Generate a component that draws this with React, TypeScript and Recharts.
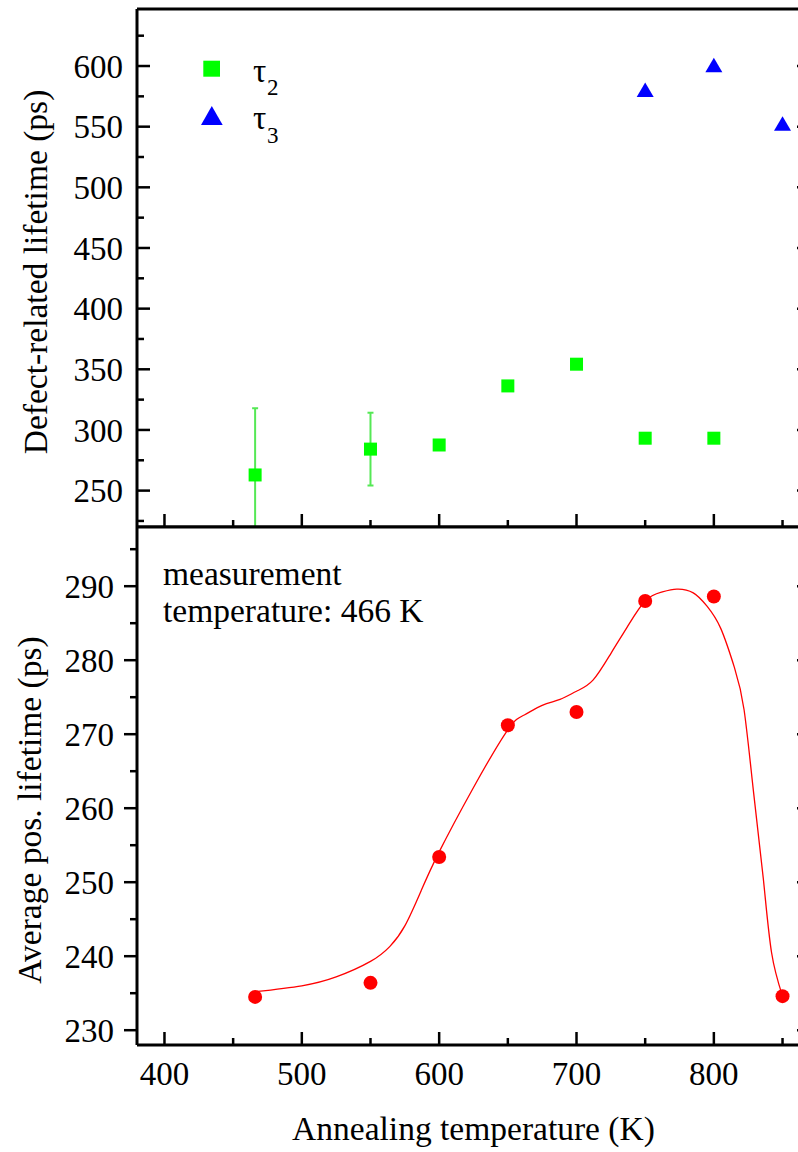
import React from "react";
import { ComposedChart, Scatter, Line, XAxis, YAxis, ErrorBar, Legend } from "recharts";

const FONT = "'Liberation Serif', 'DejaVu Serif', serif";

// upper panel: defect-related lifetimes (ps)
const tau2Temps = [466, 550, 600, 650, 700, 750, 800];
const tau2Values = [262.9, 284.2, 287.6, 336.3, 354.2, 293.2, 293.2];
const tau2Errors = [55, 30, 0, 0, 0, 0, 0];
const tau3Temps = [750, 800, 850];
const tau3Values = [580.3, 600.7, 552.5];

// lower panel: average positron lifetime (ps)
const avgTemps = [466, 550, 600, 650, 700, 750, 800, 850];
const avgValues = [234.5, 236.4, 253.4, 271.2, 273.0, 288.0, 288.6, 234.6];

// guide-to-the-eye curve
const curveTemps = [466, 500, 525, 550, 564, 575, 587, 600, 625, 650, 662, 675, 688, 700, 712, 725, 737, 750, 762, 773, 785, 795, 805, 815, 822, 829, 836, 842, 850];
const curveValues = [235.2, 236.0, 237.2, 239.3, 241.3, 244.1, 248.9, 254.1, 262.8, 270.6, 272.6, 273.9, 274.7, 275.8, 277.3, 280.9, 284.5, 288.0, 289.2, 289.6, 289.1, 287.3, 284.3, 279.0, 273.3, 262.0, 250.5, 240.5, 234.6];

const xMajor = [400, 500, 600, 700, 800];
const xMinor = [450, 550, 650, 750, 850];
const topMajor = [250, 300, 350, 400, 450, 500, 550, 600];
const topMinor = [225, 275, 325, 375, 425, 475, 525, 575, 625];
const botMajor = [230, 240, 250, 260, 270, 280, 290];
const botMinor = [235, 245, 255, 265, 275, 285, 295];

const X_DOMAIN: [number, number] = [380, 870];
const TOP_DOMAIN: [number, number] = [220, 647];
const BOT_DOMAIN: [number, number] = [228, 298];

const tau2Data = tau2Temps.map((x, i) => ({ x, y: tau2Values[i], err: tau2Errors[i] }));
const tau3Data = tau3Temps.map((x, i) => ({ x, y: tau3Values[i] }));
const avgData = avgTemps.map((x, i) => ({ x, y: avgValues[i] }));
const curveData = curveTemps.map((x, i) => ({ x, y: curveValues[i] }));

const allX = [...xMajor, ...xMinor].sort((a, b) => a - b);
const allTop = [...topMajor, ...topMinor].sort((a, b) => a - b);
const allBot = [...botMajor, ...botMinor].sort((a, b) => a - b);

// frame geometry (chart-local px); both charts use the same horizontal layout
const W = 830;
const LEFT = 137;
const RIGHT = 810;
const TOP_H = 528;     // upper chart: plot 9..527
const BOT_H = 652;     // lower chart (placed at y=500): plot 27..545
const MAJOR = 13;
const MINOR = 7;
const axisLine = { stroke: "#000", strokeWidth: 3 };
const txt = { fontFamily: FONT } as React.CSSProperties;

// tick renderers; position along the axis comes from recharts (p.x / p.y),
// the frame edge is fixed, dir = +1/-1 chooses the side
function hTick(spineY: number, dir: 1 | -1, labelY: number | null) {
  return (p: any) => {
    const v = p.payload.value;
    const major = xMajor.includes(v);
    return (
      <g>
        <line x1={p.x} x2={p.x} y1={spineY} y2={spineY + dir * (major ? MAJOR : MINOR)} stroke="#000" strokeWidth={2.5} />
        {labelY != null && major ? (
          <text x={p.x} y={labelY} dy="0.71em" textAnchor="middle" style={txt} fontSize={33} fill="#000">{v}</text>
        ) : null}
      </g>
    );
  };
}
function vTick(spineX: number, dir: 1 | -1, major: number[], labelX: number | null) {
  return (p: any) => {
    const v = p.payload.value;
    const isMajor = major.includes(v);
    return (
      <g>
        <line x1={spineX} x2={spineX + dir * (isMajor ? MAJOR : MINOR)} y1={p.y} y2={p.y} stroke="#000" strokeWidth={2.5} />
        {labelX != null && isMajor ? (
          <text x={labelX} y={p.y} dy="0.355em" textAnchor="end" style={txt} fontSize={33} fill="#000">{v}</text>
        ) : null}
      </g>
    );
  };
}

const Square = (p: any) => <rect x={p.cx - 6.5} y={p.cy - 6.5} width={13} height={13} fill="#00ff00" />;
const Triangle = (p: any) => (
  <polygon points={`${p.cx - 8.5},${p.cy + 7.2} ${p.cx + 8.5},${p.cy + 7.2} ${p.cx},${p.cy - 7.3}`} fill="#0000ff" />
);
const Dot = (p: any) => <circle cx={p.cx} cy={p.cy} r={7} fill="#ff0000" />;

function yTitle(text: string, baselineX: number, cy: number) {
  return () => (
    <text x={baselineX} y={cy} transform={`rotate(-90 ${baselineX} ${cy})`} textAnchor="middle"
      style={txt} fontSize={33.5} fill="#000">{text}</text>
  );
}

function xTitle(text: string, y: number) {
  return () => (
    <text x={(LEFT + RIGHT) / 2} y={y} textAnchor="middle" style={txt} fontSize={33.5} fill="#000">{text}</text>
  );
}

function TauLegend() {
  return (
    <svg width={320} height={160} style={{ display: "block" }}>
      <rect x={203.3} y={60.7} width={16.7} height={16} fill="#00ff00" />
      <text x={253} y={81.7} style={txt} fontSize={33} fill="#000">τ</text>
      <text x={267} y={95} style={txt} fontSize={23} fill="#000">2</text>
      <polygon points="201,125 222.7,125 211.8,106" fill="#0000ff" />
      <text x={253} y={129.3} style={txt} fontSize={33} fill="#000">τ</text>
      <text x={267} y={143} style={txt} fontSize={23} fill="#000">3</text>
    </svg>
  );
}

export default function App() {
  return (
    <div style={{ position: "absolute", left: 0, top: 0, width: 798, height: 1152, overflow: "hidden", background: "#fff", fontFamily: FONT }}>
      {/* upper panel; svg ends right under the shared frame line so the 466 K error bar is cut there */}
      <div style={{ position: "absolute", left: 0, top: 0 }}>
        <ComposedChart width={W} height={TOP_H} margin={{ top: 8, right: W - RIGHT - 1, bottom: 0, left: 0 }}>
          <YAxis yAxisId="y" domain={TOP_DOMAIN} allowDataOverflow ticks={allTop} interval={0} width={LEFT}
            tickLine={false} tick={vTick(LEFT, 1, topMajor, LEFT - 14)} axisLine={axisLine}
            label={{ content: yTitle("Defect-related lifetime (ps)", 47, 272) }} />
          <YAxis yAxisId="r" orientation="right" domain={TOP_DOMAIN} allowDataOverflow ticks={allTop} interval={0} width={1}
            tickLine={false} tick={vTick(RIGHT, -1, topMajor, null)} axisLine={false} />
          <XAxis xAxisId="x" dataKey="x" type="number" orientation="bottom" height={1} domain={X_DOMAIN}
            allowDataOverflow ticks={allX} interval={0} tickLine={false} tick={hTick(527, -1, null)} axisLine={axisLine} />
          <XAxis xAxisId="t" type="number" orientation="top" height={1} domain={X_DOMAIN}
            allowDataOverflow ticks={allX} interval={0} tickLine={false} tick={hTick(9, 1, null)} axisLine={axisLine} />
          <Legend layout="vertical" align="center" verticalAlign="middle"
            wrapperStyle={{ left: 0, top: 0, width: 320, height: 160 }} content={() => <TauLegend />} />
          <Scatter name="τ2" data={tau2Data} dataKey="y" xAxisId="x" yAxisId="y" shape={Square} isAnimationActive={false}>
            <ErrorBar dataKey="err" direction="y" width={3} stroke="#55e855" strokeWidth={2} />
          </Scatter>
          <Scatter name="τ3" data={tau3Data} dataKey="y" xAxisId="x" yAxisId="y" shape={Triangle} isAnimationActive={false} />
        </ComposedChart>
      </div>

      <div style={{ position: "absolute", left: 0, top: 500 }}>
        <ComposedChart width={W} height={BOT_H} margin={{ top: 26, right: W - RIGHT - 1, bottom: 0, left: 0 }}>
          <YAxis yAxisId="y" domain={BOT_DOMAIN} allowDataOverflow ticks={allBot} interval={0} width={LEFT}
            tickLine={false} tick={vTick(LEFT, -1, botMajor, LEFT - 23)} axisLine={axisLine}
            label={{ content: yTitle("Average pos. lifetime (ps)", 41, 310) }} />
          <YAxis yAxisId="r" orientation="right" domain={BOT_DOMAIN} allowDataOverflow ticks={allBot} interval={0} width={1}
            tickLine={false} tick={vTick(RIGHT, -1, botMajor, null)} axisLine={false} />
          <XAxis xAxisId="x" dataKey="x" type="number" domain={X_DOMAIN} allowDataOverflow ticks={allX} interval={0}
            height={107} tickLine={false} tick={hTick(545, -1, 562)} axisLine={axisLine}
            label={{ content: xTitle("Annealing temperature (K)", 640) }} />
          <XAxis xAxisId="t" type="number" orientation="top" height={1} domain={X_DOMAIN} allowDataOverflow
            ticks={xMajor} tick={false} tickLine={false} axisLine={axisLine} />
          <Line data={curveData} dataKey="y" xAxisId="x" yAxisId="y" type="natural" stroke="#ff0000" strokeWidth={1.3}
            dot={false} activeDot={false} isAnimationActive={false} />
          <Scatter data={avgData} dataKey="y" xAxisId="x" yAxisId="y" shape={Dot} isAnimationActive={false} />
        </ComposedChart>
      </div>

      <svg width={798} height={1152} style={{ position: "absolute", left: 0, top: 0, pointerEvents: "none" }}>
        <text x={163} y={585} style={txt} fontSize={33.5} fill="#000">measurement</text>
        <text x={163} y={622} style={txt} fontSize={33.5} fill="#000">temperature: 466 K</text>
      </svg>
    </div>
  );
}
